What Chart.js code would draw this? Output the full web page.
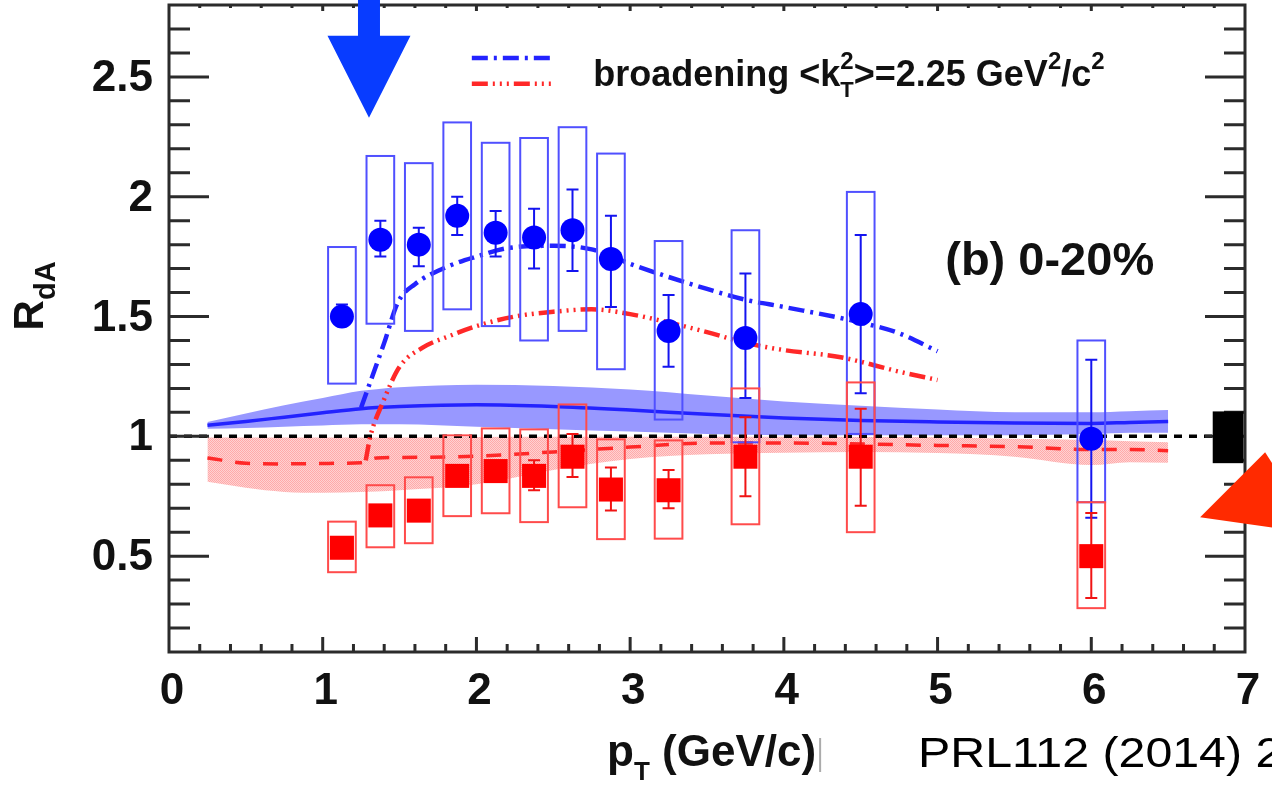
<!DOCTYPE html>
<html lang="en">
<head>
<meta charset="utf-8">
<title>R_dA vs pT, 0-20%</title>
<script src="https://cdn.jsdelivr.net/npm/chart.js@4.4.1/dist/chart.umd.min.js"></script>
<style>
  html, body { margin: 0; padding: 0; background: #ffffff; }
  #wrap { width: 1272px; height: 789px; }
  canvas { display: block; }
</style>
</head>
<body>
<div id="wrap"><canvas id="rda" width="1272" height="789"></canvas></div>
<script>
const FONT = '"Liberation Sans", Arial, Helvetica, sans-serif';

// ---------- axis ticks ----------
const xTickValues = [0, 1, 2, 3, 4, 5, 6, 7];
const xTickLabels = ['0', '1', '2', '3', '4', '5', '6', '7'];
const yTickValues = [0.5, 1, 1.5, 2, 2.5];
const yTickLabels = ['0.5', '1', '1.5', '2', '2.5'];

// ---------- measured points (pT bin centres, GeV/c) ----------
const ptBins = [1.125, 1.375, 1.625, 1.875, 2.125, 2.375, 2.625, 2.875, 3.25, 3.75, 4.5, 6.0];

// Au-going (backward rapidity)
const backRdA    = [1.50, 1.82, 1.80, 1.92, 1.85, 1.83, 1.86, 1.74, 1.44, 1.41, 1.51, 0.99];
const backStatLo = [1.46, 1.75, 1.71, 1.84, 1.75, 1.70, 1.69, 1.54, 1.29, 1.16, 1.18, 0.66];
const backStatHi = [1.55, 1.90, 1.87, 2.00, 1.94, 1.95, 2.03, 1.92, 1.59, 1.68, 1.84, 1.32];
const backSysLo  = [1.22, 1.47, 1.44, 1.53, 1.46, 1.40, 1.44, 1.28, 1.07, 0.975, 1.01, 0.725];
const backSysHi  = [1.79, 2.17, 2.14, 2.31, 2.225, 2.245, 2.29, 2.18, 1.815, 1.86, 2.02, 1.40];

// d-going (forward rapidity)
const fwdRdA    = [0.535, 0.67, 0.69, 0.835, 0.855, 0.835, 0.915, 0.778, 0.775, 0.915, 0.915, 0.50];
const fwdStatLo = [0.51, 0.64, 0.66, 0.80, 0.82, 0.775, 0.83, 0.69, 0.70, 0.75, 0.71, 0.325];
const fwdStatHi = [0.56, 0.70, 0.72, 0.88, 0.89, 0.90, 1.01, 0.87, 0.86, 1.08, 1.115, 0.68];
const fwdSysLo  = [0.433, 0.537, 0.554, 0.667, 0.679, 0.642, 0.704, 0.571, 0.573, 0.633, 0.60, 0.283];
const fwdSysHi  = [0.644, 0.796, 0.829, 1.004, 1.033, 1.029, 1.133, 0.9875, 0.983, 1.20, 1.225, 0.725];

// global normalisation uncertainty around unity
const normUncLo = 0.888;
const normUncHi = 1.104;

// ---------- calculations ----------
const calcPt      = [0.25, 0.5, 0.75, 1.0, 1.25, 1.35, 1.5, 2.0, 2.5, 3.0, 3.5, 4.0, 4.5, 5.0, 5.5, 6.0, 6.25, 6.5];
const backCalcMid = [1.046, 1.062, 1.08, 1.098, 1.115, 1.12, 1.125, 1.132, 1.125, 1.11, 1.092, 1.077, 1.066, 1.06, 1.056, 1.054, 1.058, 1.062];
const backCalcHi  = [1.06, 1.095, 1.13, 1.16, 1.19, 1.197, 1.205, 1.215, 1.21, 1.195, 1.17, 1.145, 1.128, 1.112, 1.10, 1.10, 1.105, 1.11];
const backCalcLo  = [1.032, 1.035, 1.04, 1.045, 1.05, 1.05, 1.05, 1.04, 1.03, 1.02, 1.01, 1.005, 1.005, 1.005, 1.005, 1.01, 1.015, 1.015];
const fwdCalcMid  = [0.91, 0.888, 0.885, 0.887, 0.89, 0.91, 0.912, 0.917, 0.935, 0.955, 0.972, 0.972, 0.968, 0.962, 0.957, 0.945, 0.945, 0.94];
const fwdCalcHi   = [0.995, 0.995, 0.995, 0.995, 0.995, 0.995, 0.995, 0.997, 0.998, 0.998, 0.998, 0.998, 0.997, 0.996, 0.99, 0.985, 0.98, 0.975];
const fwdCalcLo   = [0.81, 0.785, 0.768, 0.765, 0.768, 0.77, 0.775, 0.80, 0.86, 0.905, 0.925, 0.932, 0.935, 0.93, 0.915, 0.88, 0.892, 0.89];

// kT broadening, <kT^2> = 2.25 GeV^2/c^2
const backBroadPt  = [1.25, 1.30, 1.40, 1.49, 1.6, 1.8, 2.0, 2.2, 2.5, 2.75, 3.0, 3.25, 3.5, 3.75, 4.0, 4.5, 4.75, 5.0];
const backBroadVal = [1.12, 1.21, 1.39, 1.56, 1.635, 1.705, 1.75, 1.785, 1.795, 1.78, 1.72, 1.665, 1.615, 1.57, 1.54, 1.475, 1.43, 1.355];
const fwdBroadPt   = [1.28, 1.31, 1.39, 1.5, 1.65, 1.83, 2.0, 2.25, 2.5, 2.75, 3.0, 3.25, 3.5, 3.75, 4.0, 4.37, 4.75, 5.0];
const fwdBroadVal  = [0.90, 1.0, 1.14, 1.29, 1.37, 1.42, 1.46, 1.50, 1.52, 1.53, 1.51, 1.475, 1.435, 1.39, 1.36, 1.33, 1.27, 1.235];

// ---------- styles ----------
const BLUE = 'rgb(0,0,255)';
const BLUE_LINE = 'rgb(35,35,255)';
const BLUE_BOX = 'rgb(80,80,255)';
const BLUE_BAND = 'rgb(152,152,255)';
const RED = 'rgb(255,0,0)';
const RED_LINE = 'rgb(255,40,40)';
const RED_BOX = 'rgb(255,75,75)';
const BLUE_DASHDOT = [16, 6, 3, 6];
const RED_DASHDOTS = [16, 5, 2, 5, 2, 5, 2, 5];

function stipple(c1, c2) {
  const p = document.createElement('canvas');
  p.width = 2; p.height = 2;
  const g = p.getContext('2d');
  g.fillStyle = c2; g.fillRect(0, 0, 2, 2);
  g.fillStyle = c1; g.fillRect(0, 0, 1, 1); g.fillRect(1, 1, 1, 1);
  return g.createPattern(p, 'repeat');
}
const PINK_BAND = stipple('rgb(255,170,170)', 'rgb(255,210,210)');

const pts = (xs, ys) => xs.map((x, i) => ({ x, y: ys[i] }));
const curve = (label, xs, ys, extra) => Object.assign({
  label, data: pts(xs, ys), pointRadius: 0, borderWidth: 0,
  borderColor: 'rgba(0,0,0,0)', fill: false, cubicInterpolationMode: 'monotone'
}, extra);

const labelFor = (v, values, labels) => {
  const i = values.findIndex(t => Math.abs(t - v) < 1e-6);
  return i >= 0 ? labels[i] : '';
};

// ---------- drawing helpers ----------
function drawErrors(ctx, xs, ys, xv, sysLo, sysHi, statLo, statHi, boxColor, barColor) {
  const hw = 0.09;
  ctx.lineWidth = 2;
  ctx.strokeStyle = boxColor;
  xv.forEach((x, i) => {
    const l = xs.getPixelForValue(x - hw), r = xs.getPixelForValue(x + hw);
    const t = ys.getPixelForValue(sysHi[i]), b = ys.getPixelForValue(sysLo[i]);
    ctx.strokeRect(l, t, r - l, b - t);
  });
  ctx.strokeStyle = barColor;
  ctx.beginPath();
  xv.forEach((x, i) => {
    const px = xs.getPixelForValue(x);
    const t = ys.getPixelForValue(statHi[i]), b = ys.getPixelForValue(statLo[i]);
    ctx.moveTo(px, t); ctx.lineTo(px, b);
    ctx.moveTo(px - 6, t); ctx.lineTo(px + 6, t);
    ctx.moveTo(px - 6, b); ctx.lineTo(px + 6, b);
  });
  ctx.stroke();
}

function runsWidth(ctx, runs, weight) {
  let w = 0;
  for (const r of runs) {
    ctx.font = `${weight} ${r.size}px ${FONT}`;
    if (!r.stack) w += ctx.measureText(r.text).width;
  }
  return w;
}
function drawRuns(ctx, x, y, runs, weight) {
  let cx = x;
  for (const r of runs) {
    ctx.font = `${weight} ${r.size}px ${FONT}`;
    ctx.fillText(r.text, cx, y + (r.dy || 0));
    if (!r.stack) cx += ctx.measureText(r.text).width;
  }
  return cx;
}

const decor = {
  id: 'rdaDecor',
  beforeDatasetDraw(chart, args) {
    if (args.index !== 1) return;
    const { ctx, scales: { x: xs, y: ys } } = chart;
    ctx.save();
    drawErrors(ctx, xs, ys, ptBins, backSysLo, backSysHi, backStatLo, backStatHi, BLUE_BOX, 'rgb(20,20,240)');
    drawErrors(ctx, xs, ys, ptBins, fwdSysLo, fwdSysHi, fwdStatLo, fwdStatHi, RED_BOX, 'rgb(240,20,20)');
    ctx.restore();
  },
  afterDraw(chart) {
    const { ctx, chartArea: ca, scales: { x: xs, y: ys } } = chart;
    ctx.save();

    // frame
    ctx.strokeStyle = '#2b2b2b';
    ctx.lineWidth = 3;
    ctx.strokeRect(ca.left, ca.top, ca.right - ca.left, ca.bottom - ca.top);

    // inward tick marks on all four sides
    ctx.beginPath();
    for (let k = 2; k <= 27; k++) {
      const py = ys.getPixelForValue(k / 10);
      const len = k % 5 === 0 ? 40 : 21;
      ctx.moveTo(ca.left, py); ctx.lineTo(ca.left + len, py);
      ctx.moveTo(ca.right, py); ctx.lineTo(ca.right - len, py);
    }
    for (let k = 1; k <= 34; k++) {
      const px = xs.getPixelForValue(k * 0.2);
      const major = k % 5 === 0;
      ctx.moveTo(px, ca.bottom); ctx.lineTo(px, ca.bottom - (major ? 15 : 8));
      ctx.moveTo(px, ca.top); ctx.lineTo(px, ca.top + (major ? 6 : 3));
    }
    ctx.stroke();

    // normalisation uncertainty box next to the right axis
    const nl = xs.getPixelForValue(xs.max - 0.21), nr = xs.getPixelForValue(xs.max - 0.01);
    const nt = ys.getPixelForValue(normUncHi), nb = ys.getPixelForValue(normUncLo);
    ctx.fillStyle = '#000';
    ctx.fillRect(nl, nt, nr - nl, nb - nt);

    // legend
    const lx1 = xs.getPixelForValue(1.97), lx2 = xs.getPixelForValue(2.5);
    ctx.lineWidth = 4.5;
    ctx.lineCap = 'butt';
    ctx.setLineDash(BLUE_DASHDOT);
    ctx.strokeStyle = BLUE_LINE;
    ctx.beginPath(); ctx.moveTo(lx1, ys.getPixelForValue(2.579)); ctx.lineTo(lx2, ys.getPixelForValue(2.579)); ctx.stroke();
    ctx.setLineDash(RED_DASHDOTS);
    ctx.strokeStyle = RED_LINE;
    ctx.beginPath(); ctx.moveTo(lx1, ys.getPixelForValue(2.471)); ctx.lineTo(lx2, ys.getPixelForValue(2.471)); ctx.stroke();
    ctx.setLineDash([]);

    ctx.fillStyle = '#111';
    ctx.textBaseline = 'alphabetic';
    ctx.textAlign = 'left';
    drawRuns(ctx, xs.getPixelForValue(2.76), ys.getPixelForValue(2.4625), [
      { text: 'broadening <k', size: 36 },
      { text: '2', size: 24, dy: -17, stack: true },
      { text: 'T', size: 22, dy: 11 },
      { text: '>=2.25 GeV', size: 36 },
      { text: '2', size: 24, dy: -17 },
      { text: '/c', size: 36 },
      { text: '2', size: 24, dy: -17 }
    ], 'bold');

    // centrality label
    drawRuns(ctx, xs.getPixelForValue(5.05), ys.getPixelForValue(1.675), [{ text: '(b) 0-20%', size: 47 }], 'bold');

    // x axis title
    const xRuns = [
      { text: 'p', size: 44 },
      { text: 'T', size: 26, dy: 14 },
      { text: ' (GeV/c)', size: 44 }
    ];
    const xw = runsWidth(ctx, xRuns, 'bold');
    const xStart = xs.getPixelForValue(3.53) - xw / 2;
    const xEnd = drawRuns(ctx, xStart, ca.bottom + 114, xRuns, 'bold');
    ctx.strokeStyle = 'rgba(150,150,150,0.8)';
    ctx.lineWidth = 2;
    ctx.beginPath(); ctx.moveTo(xEnd + 4, ca.bottom + 86); ctx.lineTo(xEnd + 4, ca.bottom + 120); ctx.stroke();

    // y axis title
    ctx.save();
    ctx.translate(ca.left - 126, ys.getPixelForValue(1.442));
    ctx.rotate(-Math.PI / 2);
    drawRuns(ctx, 0, 0, [{ text: 'R', size: 42 }, { text: 'dA', size: 29, dy: 12 }], 'bold');
    ctx.restore();

    // annotation arrows
    const tipX = xs.getPixelForValue(1.301), tipY = ys.getPixelForValue(2.329);
    ctx.fillStyle = 'rgb(8,60,255)';
    ctx.beginPath();
    ctx.moveTo(tipX, tipY);
    ctx.lineTo(tipX - 41.5, tipY - 82);
    ctx.lineTo(tipX - 11, tipY - 82);
    ctx.lineTo(tipX - 11, -2);
    ctx.lineTo(tipX + 11, -2);
    ctx.lineTo(tipX + 11, tipY - 82);
    ctx.lineTo(tipX + 41.5, tipY - 82);
    ctx.closePath();
    ctx.fill();

    const rx = xs.getPixelForValue(6.708), ry = ys.getPixelForValue(0.6625);
    ctx.fillStyle = 'rgb(255,42,0)';
    ctx.beginPath();
    ctx.moveTo(rx, ry);
    ctx.lineTo(rx + 65, ry - 65);
    ctx.lineTo(rx + 90, ry - 26);
    ctx.lineTo(rx + 90, ry + 13);
    ctx.closePath();
    ctx.fill();

    // reference
    ctx.save();
    ctx.translate(xs.getPixelForValue(4.873), ca.bottom + 115);
    ctx.scale(1.15, 1);
    ctx.fillStyle = '#000';
    ctx.font = `42px ${FONT}`;
    ctx.fillText('PRL112 (2014) 252301', 0, 0);
    ctx.restore();

    ctx.restore();
  }
};

Chart.defaults.font.family = FONT;

new Chart(document.getElementById('rda'), {
  type: 'line',
  data: {
    datasets: [
      { label: 'Au-going', data: pts(ptBins, backRdA), showLine: false, pointStyle: 'circle',
        pointRadius: 12, pointBackgroundColor: BLUE, pointBorderColor: BLUE, pointBorderWidth: 0, order: 0 },
      { label: 'd-going', data: pts(ptBins, fwdRdA), showLine: false, pointStyle: 'rect',
        pointRadius: 17, pointBackgroundColor: RED, pointBorderColor: RED, pointBorderWidth: 0, order: 1 },
      curve('broadening Au-going', backBroadPt, backBroadVal,
        { borderColor: BLUE_LINE, borderWidth: 4.5, borderDash: BLUE_DASHDOT, order: 2 }),
      curve('broadening d-going', fwdBroadPt, fwdBroadVal,
        { borderColor: RED_LINE, borderWidth: 4.5, borderDash: RED_DASHDOTS, order: 2 }),
      { label: 'unity', data: [{ x: xTickValues[0], y: 1 }, { x: xTickValues[xTickValues.length - 1], y: 1 }],
        pointRadius: 0, borderColor: '#000', borderWidth: 3.5, borderDash: [8, 7], fill: false, order: 3 },
      curve('calc Au-going', calcPt, backCalcMid, { borderColor: BLUE_LINE, borderWidth: 3.5, order: 4 }),
      curve('calc d-going', calcPt, fwdCalcMid, { borderColor: RED_LINE, borderWidth: 3.5, borderDash: [15, 13], order: 4 }),
      curve('calc Au-going upper', calcPt, backCalcHi, { fill: '+1', backgroundColor: BLUE_BAND, order: 6 }),
      curve('calc Au-going lower', calcPt, backCalcLo, { order: 6 }),
      curve('calc d-going upper', calcPt, fwdCalcHi, { fill: '+1', backgroundColor: PINK_BAND, order: 7 }),
      curve('calc d-going lower', calcPt, fwdCalcLo, { order: 7 })
    ]
  },
  options: {
    responsive: false,
    animation: false,
    devicePixelRatio: 1,
    events: [],
    layout: { autoPadding: false, padding: { left: 0, right: 27, top: 5, bottom: 0 } },
    plugins: { legend: { display: false }, tooltip: { enabled: false } },
    scales: {
      x: {
        type: 'linear', position: 'bottom', min: 0, max: 7,
        afterBuildTicks: s => { s.ticks = xTickValues.map(v => ({ value: v })); },
        afterFit: s => { s.height = 137; s.paddingLeft = 0; s.paddingRight = 0; },
        grid: { display: false, drawTicks: false },
        border: { display: false },
        ticks: {
          padding: 13, labelOffset: 3, maxRotation: 0, autoSkip: false, color: '#111',
          font: { family: FONT, size: 44, weight: 'bold' },
          callback: v => labelFor(v, xTickValues, xTickLabels)
        }
      },
      y: {
        type: 'linear', position: 'left', min: 0.1, max: 2.8,
        afterBuildTicks: s => { s.ticks = yTickValues.map(v => ({ value: v })); },
        afterFit: s => { s.width = 169; s.paddingTop = 0; s.paddingBottom = 0; },
        grid: { display: false, drawTicks: false },
        border: { display: false },
        ticks: {
          padding: 16, labelOffset: 2, color: '#111',
          font: { family: FONT, size: 44, weight: 'bold' },
          callback: v => labelFor(v, yTickValues, yTickLabels)
        }
      }
    }
  },
  plugins: [decor]
});
</script>
</body>
</html>
